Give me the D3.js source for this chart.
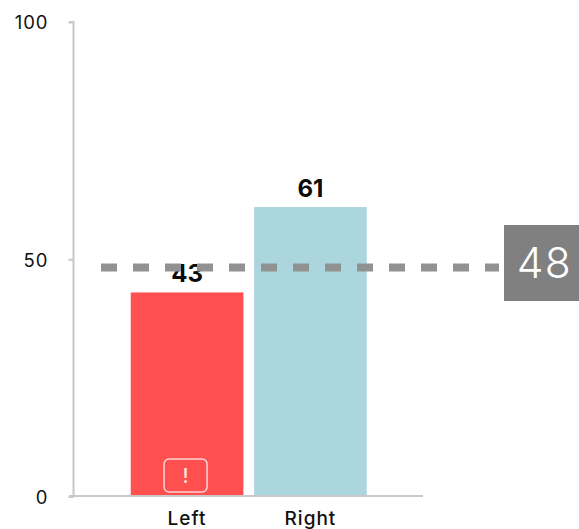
<!DOCTYPE html>
<html>
<head>
<meta charset="utf-8">
<script src="https://cdn.jsdelivr.net/npm/d3@7"></script>
<style>
html, body { margin: 0; padding: 0; background: #fff; }
svg { display: block; }
text { font-family: Inter, "Noto Sans", sans-serif; }
</style>
</head>
<body>
<svg id="chart" width="579" height="529"></svg>
<script>
const categories = ["Left", "Right"];
const values = [43, 61];
const barColors = ["#ff4f4f", "#acd6dd"];
const yTicks = [0, 50, 100];
const average = 48;

const svg = d3.select("#chart");
const y = d3.scaleLinear().domain([0, 100]).range([496.5, 22]);
const x = d3.scaleBand().domain(categories).range([74, 423.5]).paddingInner(0.087).paddingOuter(0.46);

// Bars
svg.selectAll("rect.bar").data(categories).join("rect")
  .attr("class", "bar")
  .attr("x", d => x(d))
  .attr("width", x.bandwidth())
  .attr("y", (d, i) => y(values[i]))
  .attr("height", (d, i) => y(0) - y(values[i]))
  .attr("fill", (d, i) => barColors[i]);

// Axes
const axisColor = "#c8c8c8";
const yAxis = svg.append("g").attr("transform", "translate(73.5,0)")
  .call(d3.axisLeft(y).tickValues(yTicks).tickSize(5).tickPadding(20));
const xAxis = svg.append("g").attr("transform", "translate(0,496)")
  .call(d3.axisBottom(x).tickSize(0).tickPadding(16));
xAxis.select(".domain").attr("d", "M69,0H423");
yAxis.select(".domain").attr("d", `M-4.5,${y(100)}H0V496`);
svg.selectAll(".domain").attr("stroke", axisColor).attr("stroke-width", 2).attr("fill", "none");
yAxis.selectAll(".tick line").attr("stroke", axisColor).attr("stroke-width", 2);
yAxis.selectAll(".tick text")
  .attr("y", 1)
  .attr("font-size", 18.5).attr("letter-spacing", 1).attr("fill", "#111").attr("font-family", "Inter");
xAxis.selectAll(".tick text")
  .attr("font-size", 19).attr("letter-spacing", 1).attr("fill", "#111")
  .attr("font-family", "Inter").attr("font-weight", 500);

// Value labels
svg.selectAll("text.value").data(categories).join("text")
  .attr("class", "value")
  .attr("x", d => x(d) + x.bandwidth() / 2)
  .attr("y", (d, i) => y(values[i]) - 10)
  .attr("text-anchor", "middle")
  .attr("font-size", 24)
  .attr("font-weight", 700)
  .attr("fill", "#0a0a0a")
  .text((d, i) => values[i]);

// Average line and its badge
svg.append("line")
  .attr("x1", 101).attr("x2", 499)
  .attr("y1", 267.5).attr("y2", 267.5)
  .attr("stroke", "#919191")
  .attr("stroke-width", 8)
  .attr("stroke-dasharray", "16 16");
svg.append("rect")
  .attr("x", 504).attr("width", 75)
  .attr("y", 225).attr("height", 76)
  .attr("fill", "#808080");
svg.append("text")
  .attr("x", 544.5).attr("y", 278)
  .attr("text-anchor", "middle")
  .attr("font-size", 42.5)
  .attr("letter-spacing", 1.5)
  .attr("font-weight", 300)
  .attr("fill", "#fff")
  .text(average);

// Warning marker inside the first bar
const warn = svg.append("g").attr("transform", `translate(${x("Left") + x.bandwidth() / 2 - 1.5},475.5)`);
warn.append("rect")
  .attr("x", -21.5).attr("y", -16.5).attr("width", 43).attr("height", 33).attr("rx", 5)
  .attr("fill", "none").attr("stroke", "#ffd6d6").attr("stroke-width", 1.5);
warn.append("text")
  .attr("y", 7.5).attr("text-anchor", "middle")
  .attr("font-size", 20).attr("font-weight", 500).attr("fill", "#ffe5e5")
  .text("!");
</script>
</body>
</html>
